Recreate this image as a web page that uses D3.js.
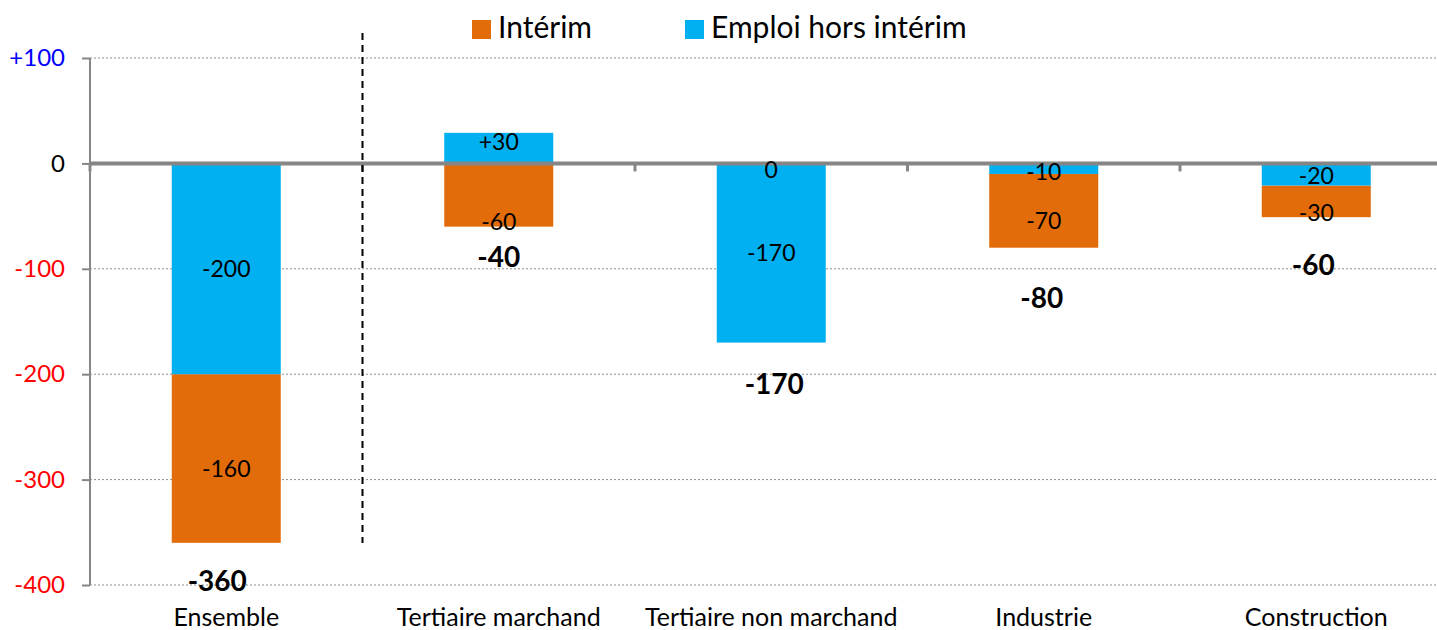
<!DOCTYPE html>
<html lang="fr">
<head>
  <meta charset="UTF-8">
  <title>Emploi</title>
  <script src="https://d3js.org/d3.v7.min.js"></script>
  <style>
    body { margin: 0; background: #fff; }
    text { font-family: Lato, "Open Sans", sans-serif; }
    .grid line { stroke: #8c8c8c; stroke-dasharray: 2,2; stroke-width: 1; }
  </style>
</head>
<body>
<svg></svg>
<script>
  // data
  const categories = ["Ensemble", "Tertiaire marchand", "Tertiaire non marchand", "Industrie", "Construction"];
  const emploiHorsInterim = [-200, 29, -170, -10, -21];
  const interim = [-160, -60, 0, -70, -30];
  const emploiLabels = ["-200", "+30", "-170", "-10", "-20"];
  const interimLabels = ["-160", "-60", "0", "-70", "-30"];
  const totalLabels = ["-360", "-40", "-170", "-80", "-60"];
  const yTicks = [100, 0, -100, -200, -300, -400];
  const yTickLabels = ["+100", "0", "-100", "-200", "-300", "-400"];

  const width = 1437, height = 630;
  const svg = d3.select("svg").attr("width", width).attr("height", height);

  const x = d3.scaleBand().domain(categories).range([90, 1452.5]).paddingInner(0.6).paddingOuter(0.3);
  const y = d3.scaleLinear().domain([-400, 100]).range([585, 58]);

  // gridlines
  svg.append("g").attr("class", "grid")
    .selectAll("line").data(yTicks.filter(d => d !== 0)).enter().append("line")
    .attr("x1", 90).attr("x2", width).attr("y1", d => y(d)).attr("y2", d => y(d));

  // y axis
  const yAxis = svg.append("g").attr("transform", "translate(90,0)")
    .call(d3.axisLeft(y).tickValues(yTicks).tickSize(8).tickFormat((d, i) => yTickLabels[i]));
  yAxis.select(".domain").attr("stroke", "#868686").attr("stroke-width", 2).attr("d", `M0,${y(100)}V${y(-400)}`);
  yAxis.selectAll(".tick line").attr("stroke", "#868686").attr("stroke-width", 2);
  yAxis.selectAll(".tick text")
    .attr("x", -25)
    .style("font-size", "24px")
    .attr("fill", d => d > 0 ? "#0000ff" : d < 0 ? "#ff0000" : "#000");

  // bars: emploi hors interim from 0, interim stacked on the same side
  const rows = categories.map((c, i) => {
    const e = emploiHorsInterim[i], t = interim[i];
    const eSeg = [0, e];
    let tSeg;
    if (Math.sign(t) === Math.sign(e) || e === 0) tSeg = [e, e + t];
    else tSeg = [0, t];
    return { c, eSeg, tSeg, i };
  });

  svg.append("g").selectAll("rect").data(rows).enter().append("rect")
    .attr("x", d => x(d.c)).attr("width", x.bandwidth())
    .attr("y", d => y(Math.max(...d.tSeg))).attr("height", d => Math.abs(y(d.tSeg[0]) - y(d.tSeg[1])))
    .attr("fill", "#e36c0a");
  svg.append("g").selectAll("rect").data(rows).enter().append("rect")
    .attr("x", d => x(d.c)).attr("width", x.bandwidth())
    .attr("y", d => y(Math.max(...d.eSeg))).attr("height", d => Math.abs(y(d.eSeg[0]) - y(d.eSeg[1])))
    .attr("fill", "#00b0f0");

  // zero line + category ticks
  svg.append("line").attr("x1", 90).attr("x2", width).attr("y1", y(0)).attr("y2", y(0))
    .attr("stroke", "#868686").attr("stroke-width", 4);
  const edge = i => x(categories[i]) - x.step() * x.paddingInner() / 2;
  svg.append("g").selectAll("line").data(d3.range(categories.length)).enter().append("line")
    .attr("x1", edge).attr("x2", edge)
    .attr("y1", y(0)).attr("y2", y(0) + 8)
    .attr("stroke", "#868686").attr("stroke-width", 3);

  // separator dashed line
  const sepX = edge(1);
  svg.append("line").attr("x1", sepX).attr("x2", sepX).attr("y1", 33).attr("y2", 543)
    .attr("stroke", "#000").attr("stroke-width", 2).attr("stroke-dasharray", "7,5");

  // segment labels
  const eNudge = [0, -6, 0, 3, 1];
  const tNudge = [10, 27, 7, 10, 12];
  const mid = s => (s[0] + s[1]) / 2;
  svg.append("g").selectAll("text").data(rows).enter().append("text")
    .attr("x", d => x(d.c) + x.bandwidth() / 2)
    .attr("y", d => y(mid(d.eSeg)) + eNudge[d.i])
    .attr("dy", "0.35em").attr("text-anchor", "middle").style("font-size", "23px")
    .text(d => emploiLabels[d.i]);
  svg.append("g").selectAll("text").data(rows).enter().append("text")
    .attr("x", d => x(d.c) + x.bandwidth() / 2)
    .attr("y", d => y(mid(d.tSeg)) + tNudge[d.i])
    .attr("dy", "0.35em").attr("text-anchor", "middle").style("font-size", "23px")
    .text(d => interimLabels[d.i]);

  // totals
  const totNudge = [38, 31, 42, 50, 48];
  const totShift = [-9, 0, 3, -2, -3];
  svg.append("g").selectAll("text").data(rows).enter().append("text")
    .attr("x", d => x(d.c) + x.bandwidth() / 2 + totShift[d.i])
    .attr("y", d => y(Math.min(d.eSeg[1], d.tSeg[1], 0)) + totNudge[d.i])
    .attr("dy", "0.35em").attr("text-anchor", "middle")
    .style("font-size", "28px").style("font-weight", "bold")
    .text(d => totalLabels[d.i]);

  // category labels
  svg.append("g").selectAll("text").data(categories).enter().append("text")
    .attr("x", d => x(d) + x.bandwidth() / 2).attr("y", 626)
    .attr("text-anchor", "middle").style("font-size", "25px")
    .text(d => d);

  // legend
  const legend = [["Intérim", "#e36c0a", 472], ["Emploi hors intérim", "#00b0f0", 685]];
  const lg = svg.append("g").selectAll("g").data(legend).enter().append("g");
  lg.append("rect").attr("x", d => d[2]).attr("y", 20).attr("width", 19).attr("height", 19).attr("fill", d => d[1]);
  lg.append("text").attr("x", d => d[2] + 26).attr("y", 38).style("font-size", "30px").text(d => d[0]);
</script>
</body>
</html>
